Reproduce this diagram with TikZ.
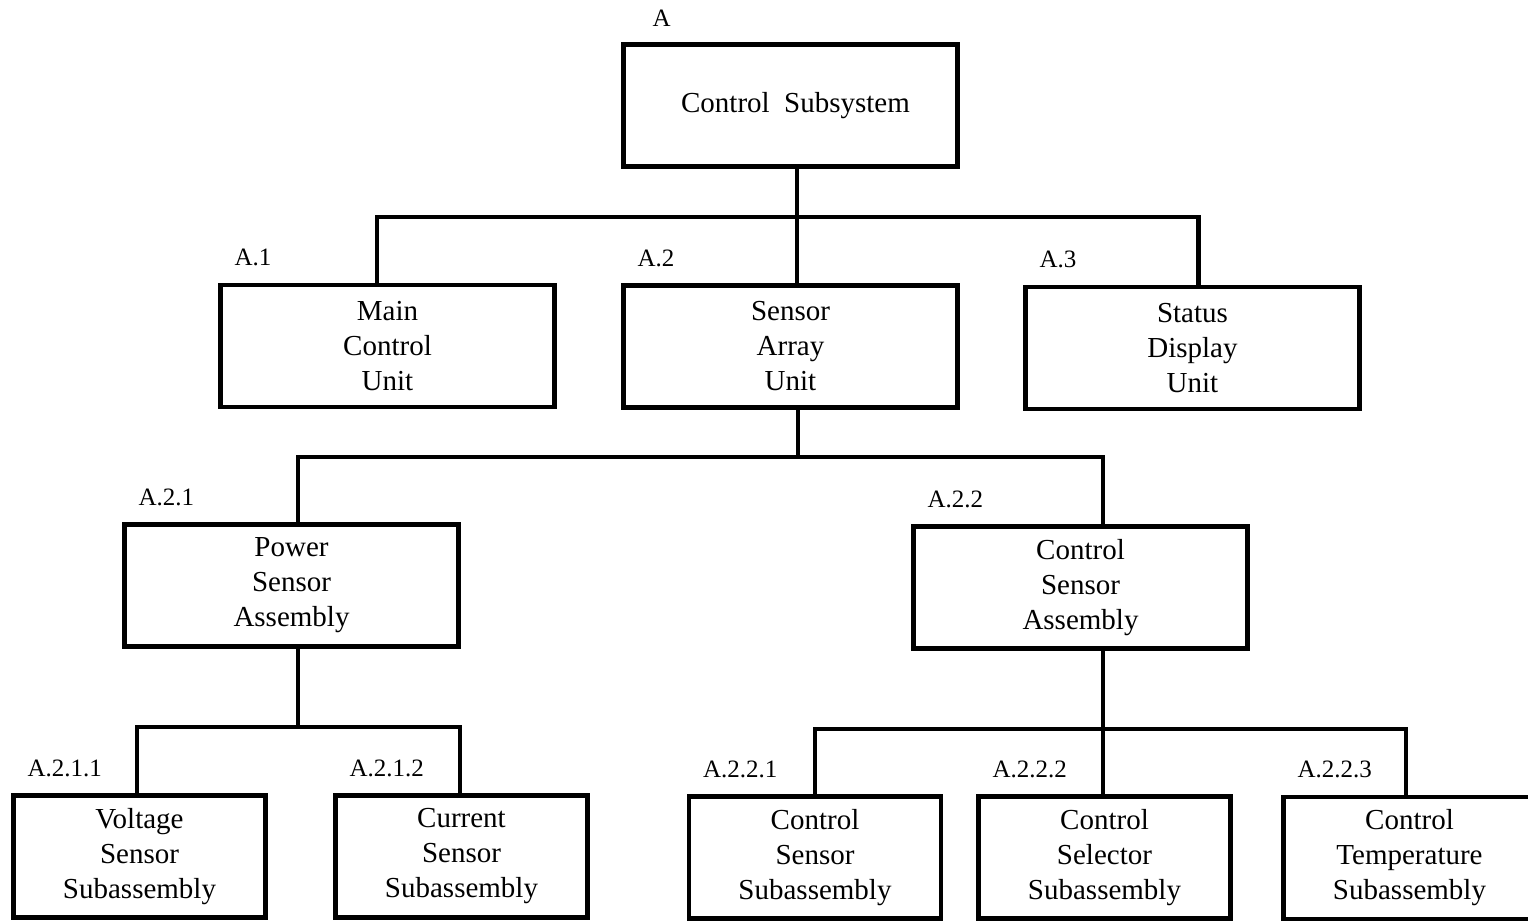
\documentclass[tikz,border=0pt]{standalone}
\usepackage{fontspec}
\setmainfont{Liberation Serif}
\usetikzlibrary{positioning,calc}
\tikzset{
  unit/.style={draw,line width=2.4pt,minimum width=167pt,minimum height=61pt,inner sep=0pt,align=center,font=\fontsize{14.5}{17.5}\selectfont},
  part/.style={unit,minimum width=126pt},
  wire/.style={line width=2.4pt},
  code/.style={anchor=base west,inner sep=0pt,font=\fontsize{12.5}{14}\selectfont},
}
\begin{document}
\begin{tikzpicture}[x=0.5pt,y=-0.5pt]
  \useasboundingbox (0,0) rectangle (1528,922);
  \clip (0,0) rectangle (1528,922);
  % top level
  \node[unit] (nA) at (790.5,105.5) {\hspace*{5pt}Control\hspace{0.5em}Subsystem};
  % units
  \node[unit] (nA1) at (387.5,346) {Main\\Control\\Unit};
  \node[unit] (nA2) at (790.5,346.5) {Sensor\\Array\\Unit};
  \node[unit] (nA3) at (1192.5,348) {Status\\Display\\Unit};
  % assemblies
  \node[unit] (nA21) at (291.5,585.5) {Power\\Sensor\\Assembly};
  \node[unit] (nA22) at (1080.5,587.5) {Control\\Sensor\\Assembly};
  % subassemblies
  \node[part] (nA211) at (139.5,856.5) {Voltage\\Sensor\\Subassembly};
  \node[part] (nA212) at (461.5,856.5) {Current\\Sensor\\Subassembly};
  \node[part] (nA221) at (815,857.5) {Control\\Sensor\\Subassembly};
  \node[part] (nA222) at (1104.5,857.5) {Control\\Selector\\Subassembly};
  \node[part] (nA223) at (1409.5,858) {Control\\Temperature\\Subassembly};
  % codes
  \node[code] (cA) at ([xshift=15.5pt,yshift=8pt]nA.north west) {A};
  \foreach \n/\t in {nA1/A.1,nA2/A.2,nA3/A.3,nA21/A.2.1,nA22/A.2.2,nA211/A.2.1.1,nA212/A.2.1.2,nA221/A.2.2.1,nA222/A.2.2.2,nA223/A.2.2.3}
    \node[code] (c\n) at ([xshift=8pt,yshift=8.5pt]\n.north west) {\t};
  % junctions
  \coordinate (j1) at (797,217);
  \coordinate (j2) at (798,457);
  \coordinate (j3) at (298,727);
  \coordinate (j4) at (1103,729);
  % connectors
  \draw[wire] (j1 |- nA.south) -- (j1) -- (j1 |- nA2.north);
  \draw[wire] ([xshift=-5.25pt]nA1.north) |- (j1) -| ([xshift=3pt]nA3.north);
  \draw[wire] (j2 |- nA2.south) -- (j2);
  \draw[wire] ([xshift=3.25pt]nA21.north) |- (j2) -| ([xshift=11.25pt]nA22.north);
  \draw[wire] (j3 |- nA21.south) -- (j3);
  \draw[wire] ([xshift=-1.25pt]nA211.north) |- (j3) -| ([xshift=-0.75pt]nA212.north);
  \draw[wire] (j4 |- nA22.south) -- (j4) -- (j4 |- nA222.north);
  \draw[wire] (nA221.north) |- (j4) -| ([xshift=-1.75pt]nA223.north);
\end{tikzpicture}
\end{document}
